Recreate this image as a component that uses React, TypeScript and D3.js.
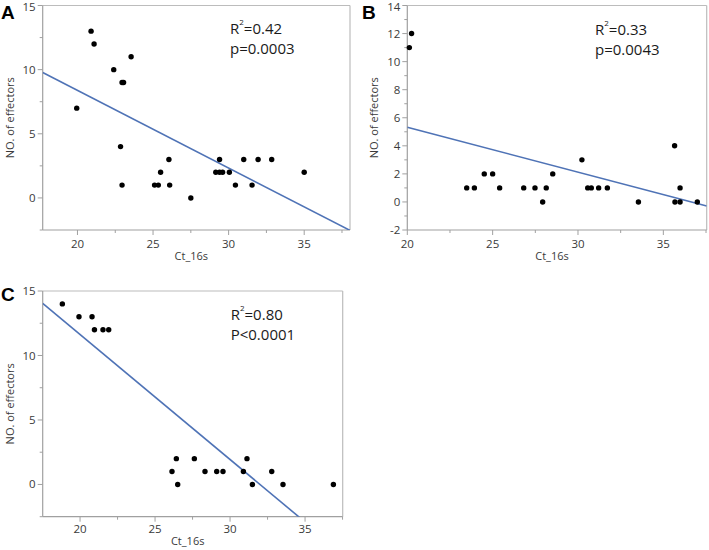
import React from "react";
import * as d3 from "d3";

// ---- Data ----
const aCt = [19.95, 20.9, 21.1, 22.4, 22.95, 23.05, 23.55, 22.85, 22.95, 25.1, 25.35, 25.5, 26.05, 26.1, 27.5, 29.15, 29.4, 29.6, 30.05, 29.4, 31.0, 31.95, 32.85, 35.0, 30.45, 31.55];
const aN = [7, 13, 12, 10, 9, 9, 11, 4, 1, 1, 1, 2, 3, 1, 0, 2, 2, 2, 2, 3, 3, 3, 3, 2, 1, 1];

const bCt = [20.12, 20.25, 23.48, 23.93, 24.51, 25.0, 25.41, 26.82, 27.48, 27.93, 28.14, 28.52, 30.23, 30.57, 30.78, 31.21, 31.72, 33.54, 35.66, 35.68, 35.98, 35.98, 36.99];
const bN = [11, 12, 1, 1, 2, 2, 1, 1, 1, 0, 1, 2, 3, 1, 1, 1, 1, 0, 4, 0, 1, 0, 0];

const cCt = [18.82, 19.93, 20.8, 20.96, 21.53, 21.91, 26.13, 26.42, 26.51, 27.62, 28.33, 29.11, 29.53, 30.89, 31.13, 31.49, 32.78, 33.53, 36.89];
const cN = [14, 13, 13, 12, 12, 12, 1, 2, 0, 2, 1, 1, 1, 1, 2, 0, 1, 0, 0];

// fitted line: value at Ct=20 and slope
const fitAt20 = [8.38, 5.32, 11.63];
const fitSlope = [-0.605, -0.3196, -0.9695];

const panelLetters = ["A", "B", "C"];
const r2Labels = ["=0.42", "=0.33", "=0.80"];
const pLabels = ["p=0.0003", "p=0.0043", "P<0.0001"];

const xTicks = [20, 25, 30, 35];
const xMinor = [17.5, 22.5, 27.5, 32.5, 37.5];
const yTicksA = [0, 5, 10, 15];
const yMinorA = [-2.5, 2.5, 7.5, 12.5];
const yTicksB = [-2, 0, 2, 4, 6, 8, 10, 12, 14];
const yMinorB = [-1, 1, 3, 5, 7, 9, 11, 13];

const xDomains: [number, number][] = [[17.7, 38.03], [20, 37.54], [17.51, 37.51]];
const yDomains: [number, number][] = [[-2.5, 15], [-2, 14], [-2.5, 15]];

// ---- Layout ----
const panels = [
  { left: 42.7, right: 350, top: 5.5, bottom: 230, letterX: 1, letterY: 18.5, annX: 230, annY: 34, lblOff: 18, titleOff: 30 },
  { left: 407.3, right: 706.7, top: 5.5, bottom: 230, letterX: 362, letterY: 18.5, annX: 595, annY: 35, lblOff: 18, titleOff: 30 },
  { left: 42.7, right: 342.7, top: 291, bottom: 516.7, letterX: 1, letterY: 301, annX: 230.7, annY: 320, lblOff: 16.5, titleOff: 28.5 },
];

const FONT = "'Open Sans', 'Noto Sans', sans-serif";
const AXIS = "#a0a0a0";
const FRAME = "#bcbcbc";
const TXT = "#3a3a3a";
const LINE = "#4f73b6";

function Panel({ i }: { i: number }) {
  const p = panels[i];
  const xs = [aCt, bCt, cCt][i];
  const ys = [aN, bN, cN][i];
  const yTicks = i === 1 ? yTicksB : yTicksA;
  const yMinor = i === 1 ? yMinorB : yMinorA;
  const x = d3.scaleLinear().domain(xDomains[i]).range([p.left, p.right]);
  const y = d3.scaleLinear().domain(yDomains[i]).range([p.bottom, p.top]);
  const [x0, x1] = xDomains[i];
  const f = (v: number) => fitAt20[i] + fitSlope[i] * (v - 20);
  const linePath = d3.line<number>().x((v) => x(v)).y((v) => y(f(v)))([x0, x1]) || "";
  const clipId = `clip${i}`;
  const cx = (p.left + p.right) / 2 - 5;
  const cy = (p.top + p.bottom) / 2;
  return (
    <g>
      <defs>
        <clipPath id={clipId}>
          <rect x={p.left} y={p.top} width={p.right - p.left} height={p.bottom - p.top} />
        </clipPath>
      </defs>
      {/* frame */}
      <line x1={p.left} x2={p.right} y1={p.top} y2={p.top} stroke={FRAME} strokeWidth={1.2} />
      <line x1={p.right} x2={p.right} y1={p.top} y2={p.bottom} stroke={FRAME} strokeWidth={1.2} />
      <line x1={p.left} x2={p.right} y1={p.bottom} y2={p.bottom} stroke={AXIS} strokeWidth={1.2} />
      <line x1={p.left} x2={p.left} y1={p.top} y2={p.bottom} stroke={AXIS} strokeWidth={1.2} />
      {/* x ticks */}
      {xTicks.map((t) => (
        <g key={"xt" + t}>
          <line x1={x(t)} x2={x(t)} y1={p.bottom} y2={p.bottom + 5} stroke={AXIS} />
          <text x={x(t)} y={p.bottom + p.lblOff} textAnchor="middle" fontFamily={FONT} fontSize={11.5} fill={TXT}>{t}</text>
        </g>
      ))}
      {xMinor.filter((t) => t >= x0 && t <= x1 + 0.05).map((t) => (
        <line key={"xm" + t} x1={x(t)} x2={x(t)} y1={p.bottom} y2={p.bottom + 3} stroke={AXIS} />
      ))}
      {/* y ticks */}
      {yTicks.map((t) => (
        <g key={"yt" + t}>
          <line x1={p.left - 5} x2={p.left} y1={y(t)} y2={y(t)} stroke={AXIS} />
          <text x={p.left - 7} y={Math.max(y(t), 7)} dy="0.35em" textAnchor="end" fontFamily={FONT} fontSize={11.5} fill={TXT}>{t}</text>
        </g>
      ))}
      {yMinor.map((t) => (
        <line key={"ym" + t} x1={p.left - 3} x2={p.left} y1={y(t)} y2={y(t)} stroke={AXIS} />
      ))}
      {/* axis titles */}
      <text x={cx} y={p.bottom + p.titleOff} textAnchor="middle" fontFamily={FONT} fontSize={11} fill={TXT}>Ct_16s</text>
      <text transform={`translate(${p.left - 29},${cy}) rotate(-90)`} textAnchor="middle" fontFamily={FONT} fontSize={11} fill={TXT}>NO. of effectors</text>
      {/* fit line */}
      <path d={linePath} stroke={LINE} strokeWidth={1.6} fill="none" clipPath={`url(#${clipId})`} />
      {/* points */}
      {xs.map((v, k) => (
        <circle key={k} cx={x(v)} cy={y(ys[k])} r={2.7} fill="#000" />
      ))}
      {/* annotation */}
      <text x={p.annX} y={p.annY} fontFamily={FONT} fontSize={15} fill="#1a1a1a">
        R<tspan fontSize={8} dy={-9}>2</tspan><tspan dy={9}>{r2Labels[i]}</tspan>
      </text>
      <text x={p.annX} y={p.annY + 19.5} fontFamily={FONT} fontSize={15} fill="#1a1a1a">{pLabels[i]}</text>
      {/* panel letter */}
      <text x={p.letterX} y={p.letterY} fontFamily="'Liberation Sans', Arial, sans-serif" fontWeight="bold" fontSize={19} fill="#000">{panelLetters[i]}</text>
    </g>
  );
}

export default function App() {
  return (
    <svg width={709} height={550} style={{ position: "absolute", left: 0, top: 0, background: "#fff" }}>
      <rect width={709} height={550} fill="#fff" />
      {[0, 1, 2].map((i) => (
        <Panel key={i} i={i} />
      ))}
    </svg>
  );
}
